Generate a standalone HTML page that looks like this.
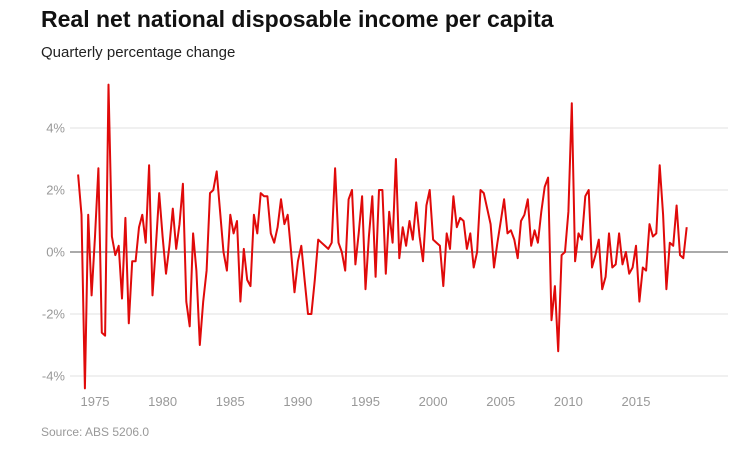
<!DOCTYPE html>
<html><head><meta charset="utf-8"><style>
body{margin:0;background:#fff;font-family:"Liberation Sans",sans-serif;}
</style></head><body>
<svg width="754" height="446" xmlns="http://www.w3.org/2000/svg">
<text x="41" y="27" font-size="23" font-weight="bold" fill="#111">Real net national disposable income per capita</text>
<text x="41" y="57" font-size="15" fill="#222">Quarterly percentage change</text>
<text x="41" y="436" font-size="12" fill="#999">Source: ABS 5206.0</text>
<g id="grid"></g><g id="xt"></g><path id="line" fill="none" stroke="#e00a0a" stroke-width="2" stroke-linejoin="round"/>
</svg>
<script>
const values=[2.5,1.2,-4.4,1.2,-1.4,0.5,2.7,-2.6,-2.7,5.4,
0.5,-0.1,0.2,-1.5,1.1,-2.3,-0.3,-0.3,0.8,1.2,
0.3,2.8,-1.4,0.2,1.9,0.5,-0.7,0.2,1.4,0.1,
0.9,2.2,-1.6,-2.4,0.6,-0.6,-3.0,-1.6,-0.6,1.9,
2.0,2.6,1.3,0.0,-0.6,1.2,0.6,1.0,-1.6,0.1,
-0.9,-1.1,1.2,0.6,1.9,1.8,1.8,0.6,0.3,0.8,
1.7,0.9,1.2,0.0,-1.3,-0.3,0.2,-0.9,-2.0,-2.0,
-0.9,0.4,0.3,0.2,0.1,0.3,2.7,0.3,0.0,-0.6,
1.7,2.0,-0.4,0.6,1.8,-1.2,0.5,1.8,-0.8,2.0,
2.0,-0.7,1.3,0.3,3.0,-0.2,0.8,0.2,1.0,0.4,
1.6,0.5,-0.3,1.5,2.0,0.4,0.3,0.2,-1.1,0.6,
0.1,1.8,0.8,1.1,1.0,0.1,0.6,-0.5,0.0,2.0,
1.9,1.4,0.9,-0.5,0.3,1.0,1.7,0.6,0.7,0.4,
-0.2,1.0,1.2,1.7,0.2,0.7,0.3,1.3,2.1,2.4,
-2.2,-1.1,-3.2,-0.1,0.0,1.3,4.8,-0.3,0.6,0.4,
1.8,2.0,-0.5,-0.1,0.4,-1.2,-0.8,0.6,-0.5,-0.4,
0.6,-0.4,0.0,-0.7,-0.5,0.2,-1.6,-0.5,-0.6,0.9,
0.5,0.6,2.8,1.2,-1.2,0.3,0.2,1.5,-0.1,-0.2,
0.8];
const startYear=1973.75;
const yTicks=[4,2,0,-2,-4];
const xTicks=[1975,1980,1985,1990,1995,2000,2005,2010,2015];
const X=t=>95+(t-1975)*13.525;
const Y=v=>252-v*31;
const NS="http://www.w3.org/2000/svg";
const g=document.getElementById('grid'),xt=document.getElementById('xt');
yTicks.forEach(v=>{
 const l=document.createElementNS(NS,'line');
 l.setAttribute('x1',70);l.setAttribute('x2',728);l.setAttribute('y1',Y(v));l.setAttribute('y2',Y(v));
 l.setAttribute('stroke',v===0?'#777':'#e6e6e6');l.setAttribute('stroke-width',v===0?1.2:1.3);
 
 
 g.appendChild(l);
 const t=document.createElementNS(NS,'text');
 t.setAttribute('x',65);t.setAttribute('y',Y(v)+4.5);t.setAttribute('text-anchor','end');
 t.setAttribute('font-size','13');t.setAttribute('fill','#999');t.textContent=v+'%';
 
 
 g.appendChild(t);
});
xTicks.forEach(y=>{
 const t=document.createElementNS(NS,'text');
 t.setAttribute('x',X(y));t.setAttribute('y',406);t.setAttribute('text-anchor','middle');
 t.setAttribute('font-size','13');t.setAttribute('fill','#999');t.textContent=y;
 
 
 xt.appendChild(t);
});
document.getElementById('line').setAttribute('d',values.map((v,i)=>(i?'L':'M')+X(startYear+i*0.25).toFixed(1)+' '+Y(v).toFixed(1)).join(''));
</script>
</body></html>
